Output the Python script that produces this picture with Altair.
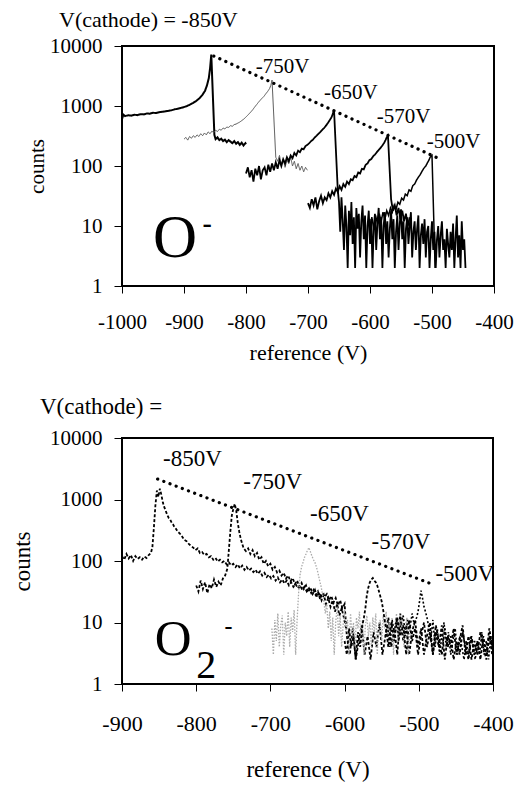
import altair as alt
import pandas as pd

FONT = "Liberation Serif"

# ---------------- top panel (O-) ----------------
top_xticks = [-1000, -900, -800, -700, -600, -500, -400]
yticks = [1, 10, 100, 1000, 10000]

top_850 = [(-1000, 600), (-998, 720), (-995, 680), (-990, 700), (-985, 690), (-980, 715), (-975, 705),
           (-970, 730), (-965, 725), (-960, 750), (-955, 745), (-950, 770), (-945, 765), (-940, 790),
           (-935, 800), (-930, 815), (-925, 830), (-920, 850), (-915, 880), (-910, 900), (-905, 930),
           (-900, 960), (-895, 1000), (-890, 1060), (-885, 1130), (-880, 1220), (-875, 1350), (-870, 1550),
           (-866, 1800), (-863, 2200), (-860, 2900), (-858, 4200), (-856, 7200), (-851, 330), (-849, 280),
           (-846, 300), (-843, 270), (-840, 285), (-837, 260), (-834, 275), (-831, 250), (-828, 270),
           (-825, 255), (-822, 240), (-819, 260), (-816, 235), (-813, 250), (-810, 225), (-807, 245),
           (-804, 220), (-801, 240), (-800, 230)]

top_750 = [(-900, 280), (-897, 300), (-894, 270), (-891, 310), (-888, 290), (-885, 320), (-882, 300),
           (-879, 330), (-876, 310), (-873, 345), (-870, 320), (-867, 355), (-864, 330), (-861, 370),
           (-858, 345), (-855, 380), (-852, 360), (-849, 395), (-846, 375), (-843, 410), (-840, 395),
           (-837, 430), (-834, 415), (-831, 445), (-828, 440), (-825, 470), (-822, 460), (-819, 490),
           (-816, 500), (-813, 520), (-810, 540), (-807, 570), (-804, 600), (-801, 640), (-798, 690),
           (-795, 740), (-792, 800), (-789, 870), (-786, 960), (-783, 1050), (-780, 1150), (-777, 1250),
           (-774, 1350), (-771, 1450), (-768, 1600), (-765, 1750), (-762, 1950), (-760, 2200), (-758, 2700),
           (-752, 140), (-749, 120), (-746, 150), (-743, 105), (-740, 130), (-737, 95), (-734, 125),
           (-731, 110), (-728, 140), (-725, 100), (-722, 120), (-719, 90), (-716, 110), (-713, 85),
           (-710, 100), (-707, 80), (-704, 95), (-701, 85)]

top_650 = [(-800, 75), (-797, 95), (-794, 65), (-791, 85), (-788, 55), (-785, 90), (-782, 70), (-779, 100),
           (-776, 60), (-773, 85), (-770, 95), (-767, 70), (-764, 105), (-761, 80), (-758, 110), (-755, 85),
           (-752, 115), (-749, 90), (-746, 125), (-743, 100), (-740, 130), (-737, 110), (-734, 140),
           (-731, 120), (-728, 150), (-725, 135), (-722, 165), (-719, 150), (-716, 180), (-713, 170),
           (-710, 195), (-707, 190), (-704, 215), (-701, 225), (-698, 240), (-695, 260), (-692, 275),
           (-689, 300), (-686, 320), (-683, 345), (-680, 370), (-677, 400), (-674, 430), (-671, 470),
           (-668, 520), (-665, 580), (-662, 650), (-660, 740), (-658, 850), (-652, 40), (-650, 25),
           (-648, 8), (-646, 30), (-644, 12), (-642, 4), (-640, 22), (-638, 10), (-636, 2), (-634, 18),
           (-632, 7), (-630, 25), (-628, 5), (-626, 14), (-624, 2), (-622, 20), (-620, 9), (-618, 16),
           (-616, 3), (-614, 12), (-612, 22), (-610, 6), (-608, 15), (-606, 2), (-604, 10), (-602, 18),
           (-600, 5), (-598, 13), (-596, 2), (-594, 9), (-592, 16), (-590, 4), (-588, 11), (-586, 20),
           (-584, 6), (-582, 14), (-580, 2), (-578, 10), (-576, 17), (-574, 5), (-572, 12), (-570, 3),
           (-568, 9), (-566, 18), (-564, 6), (-562, 13), (-560, 2), (-558, 8), (-556, 15), (-554, 4),
           (-552, 11), (-550, 19), (-548, 6), (-546, 12), (-544, 2), (-542, 9), (-540, 14), (-538, 5),
           (-536, 10), (-534, 17), (-532, 3), (-530, 8), (-528, 12), (-526, 4), (-524, 9), (-522, 15),
           (-520, 2), (-518, 7), (-516, 11), (-514, 5), (-512, 13), (-510, 3), (-508, 8), (-506, 10),
           (-504, 2), (-502, 6), (-500, 12), (-498, 4), (-496, 8), (-494, 2), (-492, 6), (-490, 10),
           (-488, 3), (-486, 7), (-484, 12), (-482, 4), (-480, 6), (-478, 2), (-476, 9), (-474, 5),
           (-472, 3), (-470, 8), (-468, 4), (-466, 11), (-464, 2), (-462, 6), (-460, 15), (-458, 3),
           (-456, 7), (-454, 2), (-452, 12), (-450, 4), (-448, 6), (-446, 2)]

top_570 = [(-700, 24), (-697, 20), (-694, 28), (-691, 22), (-688, 30), (-685, 19), (-682, 26), (-679, 32),
           (-676, 24), (-673, 30), (-670, 27), (-667, 35), (-664, 30), (-661, 38), (-658, 33), (-655, 42),
           (-652, 37), (-649, 46), (-646, 40), (-643, 50), (-640, 45), (-637, 55), (-634, 50), (-631, 60),
           (-628, 58), (-625, 68), (-622, 65), (-619, 78), (-616, 75), (-613, 90), (-610, 88), (-607, 105),
           (-604, 110), (-601, 125), (-598, 130), (-595, 145), (-592, 155), (-589, 170), (-586, 185),
           (-583, 200), (-580, 220), (-577, 245), (-575, 270), (-573, 300), (-571, 320), (-566, 28),
           (-563, 18), (-560, 22), (-557, 15), (-554, 20), (-551, 13), (-548, 18), (-545, 12), (-542, 16),
           (-539, 10), (-536, 14)]

top_500 = [(-600, 10), (-597, 14), (-594, 9), (-591, 15), (-588, 11), (-585, 16), (-582, 12), (-579, 17),
           (-576, 13), (-573, 18), (-570, 15), (-567, 20), (-564, 17), (-561, 22), (-558, 19), (-555, 25),
           (-552, 23), (-549, 29), (-546, 27), (-543, 34), (-540, 32), (-537, 40), (-534, 38), (-531, 47),
           (-528, 50), (-525, 58), (-522, 65), (-519, 72), (-516, 82), (-513, 92), (-510, 100), (-507, 115),
           (-505, 125), (-503, 140), (-500, 150), (-495, 2)]

top_trend = [(-852, 6800), (-488, 132)]

top_labels = ["-750V", "-650V", "-570V", "-500V"]
top_label_x = [-741, -631, -546, -465]
top_label_y = [3550, 1310, 520, 200]

# ---------------- bottom panel (O2-) ----------------
bot_xticks = [-900, -800, -700, -600, -500, -400]

bot_850 = [(-900, 120), (-897, 105), (-894, 130), (-891, 110), (-888, 125), (-885, 100), (-882, 120),
           (-879, 108), (-876, 115), (-873, 105), (-870, 118), (-867, 112), (-864, 125), (-861, 135),
           (-859, 170), (-857, 350), (-855, 800), (-853, 1400), (-851, 1100), (-849, 1500), (-847, 1200),
           (-845, 900), (-843, 750), (-841, 650), (-839, 560), (-837, 500), (-835, 470), (-833, 420),
           (-831, 390), (-829, 350), (-827, 330), (-825, 300), (-822, 280), (-819, 250), (-816, 220),
           (-813, 210), (-810, 190), (-807, 175), (-804, 165), (-801, 150), (-798, 160), (-795, 135),
           (-792, 140), (-789, 125), (-786, 130), (-783, 115), (-780, 120), (-777, 105), (-774, 112),
           (-771, 98), (-768, 105), (-765, 95), (-762, 100), (-759, 88), (-756, 95), (-753, 85), (-750, 90),
           (-747, 80), (-744, 88), (-741, 76), (-738, 84), (-735, 72), (-732, 80), (-729, 70), (-726, 75),
           (-723, 66), (-720, 72), (-717, 62), (-714, 68), (-711, 58), (-708, 64), (-705, 55), (-702, 60),
           (-699, 52), (-696, 57), (-693, 48), (-690, 54), (-687, 45), (-684, 50), (-681, 43), (-678, 48),
           (-675, 40), (-672, 45), (-669, 38), (-666, 42), (-663, 36), (-660, 40), (-657, 34), (-654, 38),
           (-651, 32), (-648, 36), (-645, 30), (-642, 34), (-639, 28), (-636, 32), (-633, 24), (-630, 30),
           (-627, 26), (-624, 29), (-621, 23), (-618, 27), (-615, 21), (-612, 25), (-609, 19), (-606, 23),
           (-603, 17), (-600, 20), (-597, 6), (-593, 3), (-589, 8), (-585, 2.5), (-581, 5), (-577, 9),
           (-573, 3), (-569, 6), (-565, 2.5), (-561, 7), (-557, 4), (-553, 10), (-549, 3), (-545, 6),
           (-541, 12), (-537, 4), (-533, 8), (-529, 3), (-525, 14), (-521, 5), (-517, 9), (-513, 3),
           (-509, 7), (-505, 11), (-501, 4), (-497, 8), (-493, 3), (-489, 6), (-485, 10), (-481, 3),
           (-477, 7), (-473, 4), (-469, 9), (-465, 2.5), (-461, 6), (-457, 4), (-453, 8), (-449, 3),
           (-445, 5), (-441, 9), (-437, 3), (-433, 6), (-429, 2.5), (-425, 5), (-421, 3), (-417, 7),
           (-413, 4), (-409, 2.5), (-405, 6), (-401, 3)]

bot_750 = [(-800, 40), (-797, 32), (-794, 48), (-791, 35), (-788, 45), (-785, 30), (-782, 42), (-779, 36),
           (-776, 50), (-773, 38), (-770, 46), (-767, 40), (-764, 52), (-761, 58), (-758, 75), (-756, 150),
           (-754, 300), (-752, 550), (-750, 700), (-748, 850), (-746, 650), (-744, 420), (-742, 300),
           (-740, 230), (-738, 190), (-736, 160), (-733, 145), (-730, 160), (-727, 130), (-724, 150),
           (-721, 120), (-718, 135), (-715, 105), (-712, 115), (-709, 90), (-706, 100), (-703, 82),
           (-700, 90), (-697, 72), (-694, 80), (-691, 65), (-688, 70), (-685, 58), (-682, 64), (-679, 52),
           (-676, 58), (-673, 47), (-670, 53), (-667, 42), (-664, 48), (-661, 38), (-658, 44), (-655, 35),
           (-652, 40), (-649, 31), (-646, 37), (-643, 29), (-640, 34), (-637, 26), (-634, 31), (-631, 23),
           (-628, 28), (-625, 20), (-622, 25), (-619, 18), (-616, 23), (-613, 15), (-610, 20), (-607, 13),
           (-604, 17), (-601, 12), (-598, 8)]

bot_650 = [(-698, 8), (-696, 3), (-694, 11), (-692, 5), (-690, 14), (-688, 4), (-686, 9), (-684, 13),
           (-682, 3), (-680, 10), (-678, 6), (-676, 15), (-674, 4), (-672, 12), (-670, 7), (-668, 16),
           (-666, 3), (-664, 11), (-662, 30), (-660, 60), (-658, 80), (-656, 95), (-654, 115), (-652, 130),
           (-650, 150), (-648, 165), (-646, 140), (-644, 120), (-642, 105), (-640, 95), (-638, 80),
           (-636, 65), (-634, 50), (-632, 40), (-630, 30), (-628, 22), (-626, 14), (-624, 20), (-622, 8),
           (-620, 15), (-618, 5), (-616, 12), (-614, 3), (-612, 10), (-610, 18), (-608, 6), (-606, 13),
           (-604, 4), (-602, 9), (-600, 16), (-598, 7), (-596, 11), (-594, 3), (-592, 14), (-590, 6),
           (-588, 10), (-586, 4), (-584, 12), (-582, 8), (-580, 15), (-578, 5), (-576, 11), (-574, 3),
           (-572, 9), (-570, 13), (-568, 6), (-566, 10), (-564, 4), (-562, 12), (-560, 7), (-558, 14),
           (-556, 3), (-554, 9), (-552, 11), (-550, 5), (-548, 13), (-546, 8), (-544, 15), (-542, 4),
           (-540, 10), (-538, 6), (-536, 12), (-534, 3), (-532, 9), (-530, 14), (-528, 5), (-526, 11),
           (-524, 7), (-522, 13), (-520, 4), (-518, 9), (-516, 12), (-514, 3), (-512, 8), (-510, 6)]

bot_570 = [(-600, 5), (-597, 3), (-594, 8), (-591, 4), (-588, 6), (-585, 2.5), (-582, 7), (-579, 4),
           (-576, 9), (-574, 12), (-572, 17), (-570, 28), (-568, 37), (-566, 45), (-564, 50), (-562, 53),
           (-560, 48), (-558, 45), (-556, 40), (-554, 33), (-552, 27), (-550, 22), (-548, 16), (-546, 11),
           (-544, 8), (-541, 4), (-537, 10), (-533, 5), (-529, 12), (-525, 6), (-521, 9), (-517, 3),
           (-513, 11), (-509, 5), (-505, 8), (-501, 3), (-497, 6), (-493, 10), (-489, 4), (-485, 7),
           (-481, 3), (-477, 9), (-473, 5), (-469, 3), (-465, 8), (-461, 4), (-457, 6), (-453, 2.5),
           (-449, 5), (-445, 3), (-441, 7), (-437, 4), (-433, 2.5), (-429, 6), (-425, 3), (-421, 5),
           (-417, 2.5), (-413, 6), (-409, 3), (-405, 8), (-401, 4)]

bot_500 = [(-545, 6), (-542, 9), (-539, 4), (-536, 11), (-533, 7), (-530, 12), (-527, 5), (-524, 10),
           (-521, 13), (-518, 6), (-515, 11), (-512, 8), (-509, 14), (-506, 9), (-503, 12), (-501, 15),
           (-499, 22), (-497, 33), (-495, 25), (-493, 18), (-491, 15), (-489, 12), (-487, 9), (-484, 5),
           (-481, 11), (-478, 4), (-475, 8), (-472, 3), (-469, 6), (-466, 10), (-463, 4), (-460, 7),
           (-457, 3), (-454, 5), (-451, 8), (-448, 3), (-445, 6), (-442, 4), (-439, 2.5), (-436, 5),
           (-433, 3), (-430, 6), (-427, 4), (-424, 2.5), (-421, 5), (-418, 3), (-415, 7), (-412, 3),
           (-409, 5), (-406, 2.5), (-403, 6), (-400, 3)]

bot_trend = [(-852, 2150), (-482, 42)]

bot_labels = ["-850V", "-750V", "-650V", "-570V", "-500V"]
bot_label_x = [-805, -697, -607, -524, -438]
bot_label_y = [3500, 1480, 447, 157, 47]

DASHES = {"solid": [1, 0], "dash": [3, 2], "dot": [1.5, 1.5], "short": [2, 2]}


def make_panel(xdom, xticks, w, h, lab_size, x_lab_pad, x_title_y, y_title_x, y_title_size,
               series, trend, labels, lab_x, lab_y, lab_font, left_texts, hyphen, anchor):
    xs = alt.Scale(domain=xdom, nice=False, zero=False)
    ys = alt.Scale(type="log", domain=[1, 10000], nice=False)
    xax = alt.Axis(values=xticks, labelExpr="'' + datum.value", grid=False, domain=False,
                   tickSize=7, tickColor="black", labelFont=FONT, labelFontSize=lab_size,
                   labelColor="black", labelPadding=x_lab_pad, title="reference (V)",
                   titleFont=FONT, titleFontSize=lab_size + 1, titleFontWeight="normal",
                   titleColor="black", titleY=x_title_y, titleBaseline="middle", labelFlush=False)
    yax = alt.Axis(values=yticks, labelExpr="'' + datum.value", grid=False, domain=False,
                   tickSize=8, tickColor="black", labelFont=FONT, labelFontSize=21,
                   labelColor="black", labelPadding=12, title="counts", titleFont=FONT,
                   titleFontSize=y_title_size, titleFontWeight="normal", titleColor="black",
                   titleX=y_title_x, titleY=h / 2, titleAngle=270, titleAlign="center",
                   titleBaseline="middle", labelFlush=False)
    X = alt.X("x:Q", scale=xs, axis=xax)
    Y = alt.Y("y:Q", scale=ys, axis=yax)

    rows = []
    for k, (pairs, color, width, dash) in enumerate(series):
        for (px, py) in pairs:
            rows.append({"x": px, "y": py, "s": k, "c": color, "w": width, "d": dash})
    df = pd.DataFrame(rows)
    keys = list(DASHES.keys())
    lines = alt.Chart(df).mark_line(clip=True).encode(
        x=X, y=Y, detail="s:N",
        color=alt.Color("c:N", scale=None),
        strokeWidth=alt.StrokeWidth("w:Q", scale=None),
        strokeDash=alt.StrokeDash("d:N", scale=alt.Scale(domain=keys, range=[DASHES[k] for k in keys]),
                                  legend=None))

    tdf = pd.DataFrame(trend, columns=["x", "y"])
    tr = alt.Chart(tdf).mark_line(color="black", strokeWidth=3.2, strokeDash=[0.1, 6.5],
                                  strokeCap="round").encode(x=X, y=Y)

    ldf = pd.DataFrame({"t": labels, "x": lab_x, "y": lab_y})
    lab = alt.Chart(ldf).mark_text(font=FONT, fontSize=lab_font, color="black", align="center",
                                   baseline="alphabetic").encode(x=X, y=Y, text="t:N")

    tdf2 = pd.DataFrame(left_texts, columns=["t", "x", "y", "fs"])
    lt = alt.Chart(tdf2).mark_text(font=FONT, color="black", align="left", baseline="alphabetic").encode(
        x=X, y=Y, text="t:N", size=alt.Size("fs:Q", scale=None))

    hdf = pd.DataFrame([hyphen], columns=["t", "x", "y", "fs"])
    hy = alt.Chart(hdf).mark_text(font=FONT, fontWeight="bold", color="black", align="left",
                                  baseline="alphabetic").encode(
        x=X, y=Y, text="t:N", size=alt.Size("fs:Q", scale=None))

    layers = [lines, tr, lab, lt, hy]
    if anchor:
        adf = pd.DataFrame({"t": ["a"]})
        layers.append(alt.Chart(adf).mark_rule(color="white", strokeWidth=1)
                      .encode(x=alt.value(-115.5), y=alt.value(-39.5), y2=alt.value(-35)))
    return alt.layer(*layers).properties(width=w, height=h,
                                         view=alt.ViewBackground(stroke="black", strokeWidth=2))


top = make_panel(
    [-1000, -400], top_xticks, 372, 240, 21, 18, 66, -85, 21,
    [(top_850, "black", 2, "solid"), (top_750, "#555555", 1, "solid"), (top_650, "black", 1.8, "solid"),
     (top_570, "black", 1.8, "solid"), (top_500, "black", 1.5, "solid")],
    top_trend, top_labels, top_label_x, top_label_y, 21,
    [("O", -950, 3.04, 61), ("V(cathode) = -850V", -1101.6, 20736, 22)],
    ("-", -870, 7.8, 28), True)

bottom = make_panel(
    [-900, -400], bot_xticks, 371, 246, 22, 22, 85, -100, 23,
    [(bot_850, "black", 1.8, "dash"), (bot_750, "black", 1.8, "dash"),
     (bot_650, "#aaaaaa", 1.3, "dot"), (bot_570, "black", 1.8, "dash"),
     (bot_500, "black", 1.6, "short")],
    bot_trend, bot_labels, bot_label_x, bot_label_y, 23,
    [("O", -856, 2.96, 51), ("2", -800, 1.25, 40), ("V(cathode) =", -1010.5, 24550, 23)],
    ("-", -762, 6.5, 24), False)

chart = alt.vconcat(top, bottom, spacing=152, bounds="flush")

chart.save("out.html", embed_options={"renderer": "svg", "actions": False})
